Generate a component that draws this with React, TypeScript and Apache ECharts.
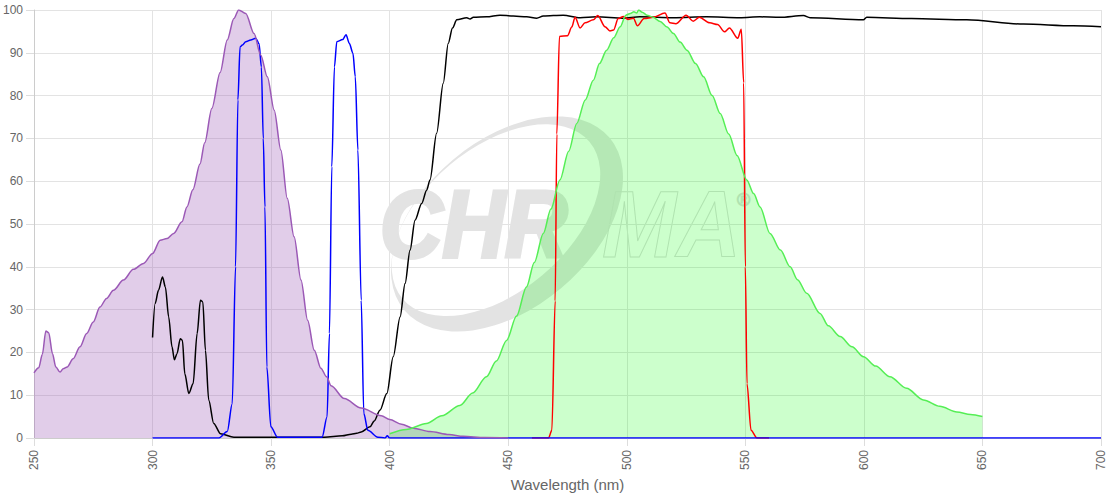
import React, { useEffect, useRef } from "react";
import * as echarts from "echarts";

const X_MIN = 250;
const X_MAX = 700;
const X_STEP = 50;
const Y_MIN = 0;
const Y_MAX = 100;
const Y_STEP = 10;
const X_NAME = "Wavelength (nm)";

// Fluorophore excitation spectrum (purple, filled)
const excitation: number[][] = [
  [250, 15.2], [252, 16.4], [253.5, 19.5], [255, 25], [256.2, 24.6], [257.8, 19.7], [259.2, 16.6],
  [261, 15.4], [262.3, 16.2], [264, 16.6], [266.5, 18.5], [269.4, 21.3], [272.2, 24.4], [275, 27.1],
  [277.8, 30.6], [280.6, 32.6], [283.5, 34.5], [287.7, 36.9], [291.9, 39.4], [296.2, 40.8], [300, 43.1],
  [303.2, 46.2], [306.1, 46.6], [308.9, 47.8], [312.4, 50.5], [314.5, 54], [317, 58], [320, 64],
  [322, 69], [325, 77], [328.5, 85.4], [331.5, 93], [334.3, 98], [336.3, 100], [339.3, 99.2],
  [342.8, 94.5], [345.6, 89.5], [348.4, 84.4], [351.3, 76.6], [354.1, 67.3], [356.8, 56], [359.7, 47],
  [362.6, 36.9], [365.4, 27.5], [368.2, 20.5], [371, 16.3], [373.4, 14.3], [375.3, 12.2], [380.9, 9.2],
  [388, 7], [396.5, 5.2], [400, 4.3], [405, 3.2], [410, 2.3], [417, 1.5], [425, 0.8], [431, 0.4],
  [440, 0.1], [450, 0],
];

// Excitation filter (blue)
const exFilter: number[][] = [
  [300, 0], [328, 0], [331.5, 1.5], [333.6, 8], [335, 40], [336, 79], [336.9, 91.4], [337.9, 91.8],
  [339.3, 92.6], [341.4, 93], [343.5, 93.4], [344.9, 92.2], [345.9, 86.7], [346.7, 70], [347.4, 54],
  [348.2, 16.6], [349.9, 2.6], [352.7, 0.2], [371.5, 0.2], [373.6, 4.9], [374.6, 24.4], [375.6, 63.4],
  [376.7, 86.7], [377.7, 92.6], [380.2, 93.1], [381.6, 94.2], [383, 92.2], [384.5, 89.9], [385.5, 84.4],
  [386.6, 67.3], [388, 32.2], [389.1, 5.7], [390.8, 1.8], [395, 0.2], [398, 0], [399, 0.5], [400, 0],
  [700, 0],
];

// Dichroic mirror (black)
const dichroic: number[][] = [
  [300, 23.5], [301.1, 31.4], [302.5, 34.5], [304.2, 37.6], [305.4, 35.3], [306.8, 28.3], [308.2, 21.3],
  [309.2, 18.3], [310.3, 19.7], [311.7, 23.2], [312.6, 22.8], [313.6, 15], [315.3, 10.4], [317.1, 12.7],
  [318.8, 24.4], [320.2, 32.2], [321.2, 31.8], [322.3, 20.5], [323.7, 8.8], [325.8, 3.4], [328.7, 1],
  [334.3, 0.2], [372.5, 0.2], [380, 0.5], [383.8, 0.9], [386.1, 1.1], [388, 1.4], [391.7, 2.6],
  [393.5, 4], [395.9, 6.5], [398.8, 10.4], [401.5, 19], [404.4, 28.3], [406.5, 36.1], [408.6, 43.9],
  [410.7, 50.9], [413.5, 54.8], [415.6, 57.9], [417, 60.3], [419.8, 71.2], [422.6, 82.9], [424.7, 92.2],
  [426.5, 95.8], [428.3, 97.7], [432.5, 98.2], [433.9, 97.9], [435.3, 98.3], [440.9, 98.4], [446.5, 98.8],
  [452.1, 98.6], [457.8, 98.4], [462, 98.1], [464.8, 98.6], [473.2, 98.8], [480.3, 98.2], [487.3, 98.4],
  [498.5, 98.1], [505.5, 98.4], [519.6, 98.2], [533.6, 98.4], [547.7, 98.2], [556.1, 98.4], [564.6, 98.3],
  [574.5, 98.7], [577.3, 98.2], [599.8, 97.7], [601.2, 98.3], [620, 98], [643.4, 97.7], [667.3, 96.7],
  [688.3, 96.3], [700, 96.1],
];

// Emission filter (red)
const emFilter: number[][] = [
  [460, 0], [467, 0], [468.4, 1.8], [469.8, 32], [470.5, 71], [471.6, 93.8], [475, 94], [476.8, 96],
  [478.2, 98.3], [480.3, 95.8], [482.4, 97], [485.9, 97.7], [487.8, 98.7], [490.8, 96.1], [492.9, 95.1],
  [494.4, 95.3], [496.4, 98], [498.6, 98.5], [500.5, 97.8], [502.8, 98.1], [504.5, 96.3], [507.3, 98],
  [511.2, 98.3], [516.1, 99.3], [518.2, 97], [520.7, 96.8], [525, 98.8], [528, 97.4], [530.6, 98.3],
  [535, 97], [538.3, 96.6], [541.2, 94.9], [543.3, 95.8], [546.8, 93.4], [548.3, 95.5], [549.3, 83],
  [550, 40], [550.7, 12.7], [552.4, 1.8], [554.9, 0], [560, 0],
];

// Fluorophore emission spectrum (green, filled)
const emission: number[][] = [
  [400, 1], [407, 2], [415.5, 3.4], [422, 5.2], [429.6, 7.6], [435, 10.5], [440.8, 14.3], [445, 18],
  [449.3, 22.8], [453.5, 28.5], [457.7, 35.3], [461, 41], [464.8, 47.8], [468, 53.5], [471.8, 60.3],
  [475.5, 67], [478.9, 73.5], [482.5, 79], [485.9, 83.6], [488.5, 87.5], [491.5, 90.6], [494.5, 93.5],
  [497.2, 96.1], [499.6, 98.8], [501.5, 99.2], [503, 99.6], [504.2, 99.3], [505, 100], [506.5, 99.5],
  [508.5, 98.8], [511, 98.3], [514.1, 97.3], [517, 96], [519.7, 94.5], [522.5, 92.5], [525.4, 90.6],
  [529, 87.5], [532.4, 84.4], [536, 80], [539.4, 75.8], [543, 71], [546.5, 66], [550.6, 60.3],
  [553.5, 57.1], [556.2, 54], [560.4, 47.8], [564.8, 43.9], [568.9, 40], [572, 37], [575.9, 33.8],
  [581.5, 29.1], [585, 26.2], [590, 23.7], [595, 21.3], [599.8, 19], [605, 16.8], [611, 14.3],
  [618, 11.6], [625.1, 8.9], [632, 7.4], [639.2, 6.1], [645, 5.5], [650, 5],
];

const SWOOSH_D =
  "M 134 0 A 134 84 0 1 1 -134 0 A 134 84 0 1 1 134 0 Z " +
  "M 116 -10 A 122 72 0 1 0 -128 -10 A 122 72 0 1 0 116 -10 Z";

let registered = false;
function registerSwoosh() {
  if (registered) return;
  registered = true;
  echarts.graphic.registerShape("swoosh", echarts.graphic.extendPath(SWOOSH_D, {}) as any);
}

const FONT = "'Liberation Sans', Arial, Helvetica, sans-serif";
const WM = "#e3e3e3";

export default function App() {
  const ref = useRef<HTMLDivElement>(null);

  useEffect(() => {
    document.body.style.margin = "0";
    registerSwoosh();
    const chart = echarts.init(ref.current!, undefined, { renderer: "svg" });

    const lineSeries = (name: string, data: number[][], color: string, extra: any = {}) => ({
      name,
      type: "line",
      data,
      showSymbol: false,
      smooth: 0.3,
      smoothMonotone: "x",
      lineStyle: { color, width: 1.5 },
      itemStyle: { color },
      emphasis: { disabled: true },
      ...extra,
    });

    chart.setOption({
      animation: false,
      textStyle: { fontFamily: FONT },
      grid: { left: 34, right: 19, top: 10, bottom: 62, containLabel: false, outerBoundsMode: "none" },
      xAxis: {
        type: "value",
        min: X_MIN,
        max: X_MAX,
        interval: X_STEP,
        name: X_NAME,
        nameLocation: "middle",
        nameGap: 39,
        nameMoveOverlap: false,
        nameTextStyle: { color: "#666", fontSize: 15, fontFamily: FONT },
        axisLine: { show: true, onZero: false, lineStyle: { color: "#ccc" } },
        axisTick: { show: true, length: 8, lineStyle: { color: "#ddd" } },
        axisLabel: { rotate: 90, color: "#666", fontSize: 12, margin: 12, fontFamily: FONT },
        splitLine: { show: true, lineStyle: { color: "#e3e3e3", width: 1 } },
      },
      yAxis: {
        type: "value",
        min: Y_MIN,
        max: Y_MAX,
        interval: Y_STEP,
        axisLine: { show: true, lineStyle: { color: "#ccc" } },
        axisTick: { show: true, length: 8, lineStyle: { color: "#ddd" } },
        axisLabel: { color: "#666", fontSize: 12, margin: 11, fontFamily: FONT },
        splitLine: { show: true, lineStyle: { color: "#e3e3e3", width: 1 } },
      },
      graphic: [
        {
          type: "group",
          z: -10,
          silent: true,
          children: [
            {
              type: "swoosh",
              x: 507,
              y: 224,
              z: -10,
              rotation: (40 * Math.PI) / 180,
              style: { fill: WM },
            },
            {
              type: "text",
              x: 380,
              y: 224,
              z: -10,
              scaleX: 0.92,
              style: {
                text: "CHR",
                font: `italic bold 94px ${FONT}`,
                fill: WM,
                stroke: WM,
                lineWidth: 4,
                align: "left",
                verticalAlign: "middle",
              },
            },
            {
              type: "text",
              x: 602,
              y: 224,
              z: -10,
              scaleX: 0.95,
              style: {
                text: "MA",
                font: `italic bold 94px ${FONT}`,
                fill: "rgba(0,0,0,0)",
                stroke: "#dcdcdc",
                lineWidth: 1,
                align: "left",
                verticalAlign: "middle",
              },
            },
            {
              type: "text",
              x: 737,
              y: 200,
              z: -10,
              style: {
                text: "®",
                font: `18px ${FONT}`,
                fill: "rgba(0,0,0,0)",
                stroke: "#dcdcdc",
                lineWidth: 1,
                align: "left",
                verticalAlign: "middle",
              },
            },
          ],
        },
      ],
      series: [
        lineSeries("Dichroic", dichroic, "#000000"),
        lineSeries("Emission filter", emFilter, "#ff0000"),
        lineSeries("Excitation filter", exFilter, "#0000ff"),
        lineSeries("Excitation", excitation, "rgb(155,89,182)", {
          areaStyle: { color: "rgba(155,89,182,0.3)", opacity: 1, origin: "start" },
        }),
        lineSeries("Emission", emission, "#55ee55", {
          areaStyle: { color: "rgba(0,255,0,0.2)", opacity: 1, origin: "start" },
        }),
      ],
    });

    return () => chart.dispose();
  }, []);

  return <div ref={ref} style={{ width: 1120, height: 500 }} />;
}
